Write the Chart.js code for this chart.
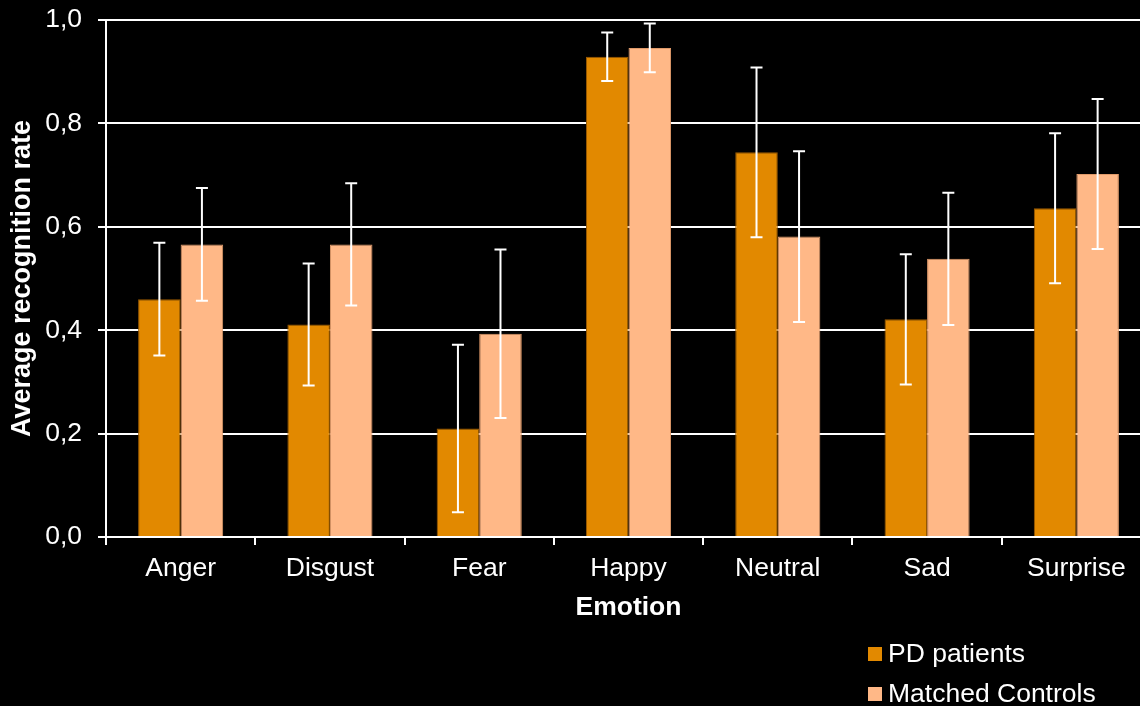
<!DOCTYPE html>
<html>
<head>
<meta charset="utf-8">
<script src="https://cdn.jsdelivr.net/npm/chart.js@4.4.1/dist/chart.umd.min.js"></script>
<style>
  html, body { margin: 0; padding: 0; background: #000; overflow: hidden; }
  #wrap { width: 1151px; height: 706px; }
</style>
</head>
<body>
<div id="wrap"><canvas id="bar-chart"></canvas></div>
<script>
var emotions = ["Anger", "Disgust", "Fear", "Happy", "Neutral", "Sad", "Surprise"];
var patients = [0.460, 0.411, 0.210, 0.929, 0.744, 0.421, 0.636];
var patientsErr = [0.109, 0.118, 0.162, 0.047, 0.164, 0.126, 0.145];
var controls = [0.566, 0.566, 0.393, 0.946, 0.581, 0.538, 0.702];
var controlsErr = [0.109, 0.118, 0.163, 0.047, 0.165, 0.128, 0.145];

var FONT = "Liberation Sans, Arial, sans-serif";

// white error bars with short caps on top of every bar
var errorBars = {
  id: 'errorBars',
  afterDatasetsDraw: function(chart) {
    var ctx = chart.ctx;
    var y = chart.scales.y;
    ctx.save();
    ctx.strokeStyle = '#ffffff';
    ctx.lineWidth = 2;
    chart.data.datasets.forEach(function(ds, i) {
      chart.getDatasetMeta(i).data.forEach(function(bar, j) {
        var top = y.getPixelForValue(ds.data[j] + ds.errors[j]);
        var bottom = y.getPixelForValue(ds.data[j] - ds.errors[j]);
        ctx.beginPath();
        ctx.moveTo(bar.x, top);
        ctx.lineTo(bar.x, bottom);
        ctx.moveTo(bar.x - 6, top);
        ctx.lineTo(bar.x + 6, top);
        ctx.moveTo(bar.x - 6, bottom);
        ctx.lineTo(bar.x + 6, bottom);
        ctx.stroke();
      });
    });
    ctx.restore();
  }
};

// legend stacked vertically in the bottom right corner
var stackedLegend = {
  id: 'stackedLegend',
  afterDraw: function(chart) {
    var ctx = chart.ctx;
    ctx.save();
    ctx.font = '26.5px ' + FONT;
    ctx.textBaseline = 'middle';
    chart.data.datasets.forEach(function(ds, i) {
      var cy = 654 + i * 40;
      ctx.fillStyle = ds.backgroundColor;
      ctx.fillRect(868, cy - 7, 14, 14);
      ctx.fillStyle = '#ffffff';
      ctx.fillText(ds.label, 888, cy + 1);
    });
    ctx.restore();
  }
};

new Chart(document.getElementById("bar-chart"), {
  type: 'bar',
  data: {
    labels: emotions,
    datasets: [
      {
        label: "PD patients",
        data: patients,
        errors: patientsErr,
        backgroundColor: "#e28900",
        borderColor: "#9a5a00",
        borderWidth: 1
      },
      {
        label: "Matched Controls",
        data: controls,
        errors: controlsErr,
        backgroundColor: "#ffb887",
        borderColor: "#e09a6a",
        borderWidth: 1
      }
    ]
  },
  options: {
    responsive: true,
    maintainAspectRatio: false,
    animation: false,
    categoryPercentage: 0.57,
    barPercentage: 1,
    layout: { padding: { left: 0, right: 0, top: 20, bottom: 82 } },
    plugins: {
      legend: { display: false },
      tooltip: { enabled: false }
    },
    scales: {
      x: {
        grid: { drawOnChartArea: false, color: '#ffffff', lineWidth: 2, tickLength: 8 },
        border: { color: '#ffffff', width: 2 },
        ticks: { color: '#ffffff', font: { family: FONT, size: 26.5 }, padding: 8 },
        title: {
          display: true,
          text: 'Emotion',
          color: '#ffffff',
          font: { family: FONT, size: 26.5, weight: 'bold' },
          padding: { top: 4, bottom: 0 }
        },
        afterFit: function(scale) { scale.height = 87; }
      },
      y: {
        min: 0,
        max: 1,
        ticks: {
          stepSize: 0.2,
          color: '#ffffff',
          padding: 16,
          font: { family: FONT, size: 26.5 },
          callback: function(v) { return v.toFixed(1).replace('.', ','); }
        },
        grid: { color: '#ffffff', lineWidth: 2, tickLength: 8 },
        border: { color: '#ffffff', width: 2 },
        title: {
          display: true,
          text: 'Average recognition rate',
          color: '#ffffff',
          font: { family: FONT, size: 27, weight: 'bold' },
          padding: { top: 6, bottom: 6 }
        },
        afterFit: function(scale) {
          scale.width = 106;
          scale.paddingTop = 0;
          scale.paddingBottom = 0;
        }
      }
    }
  },
  plugins: [errorBars, stackedLegend]
});
</script>
</body>
</html>
